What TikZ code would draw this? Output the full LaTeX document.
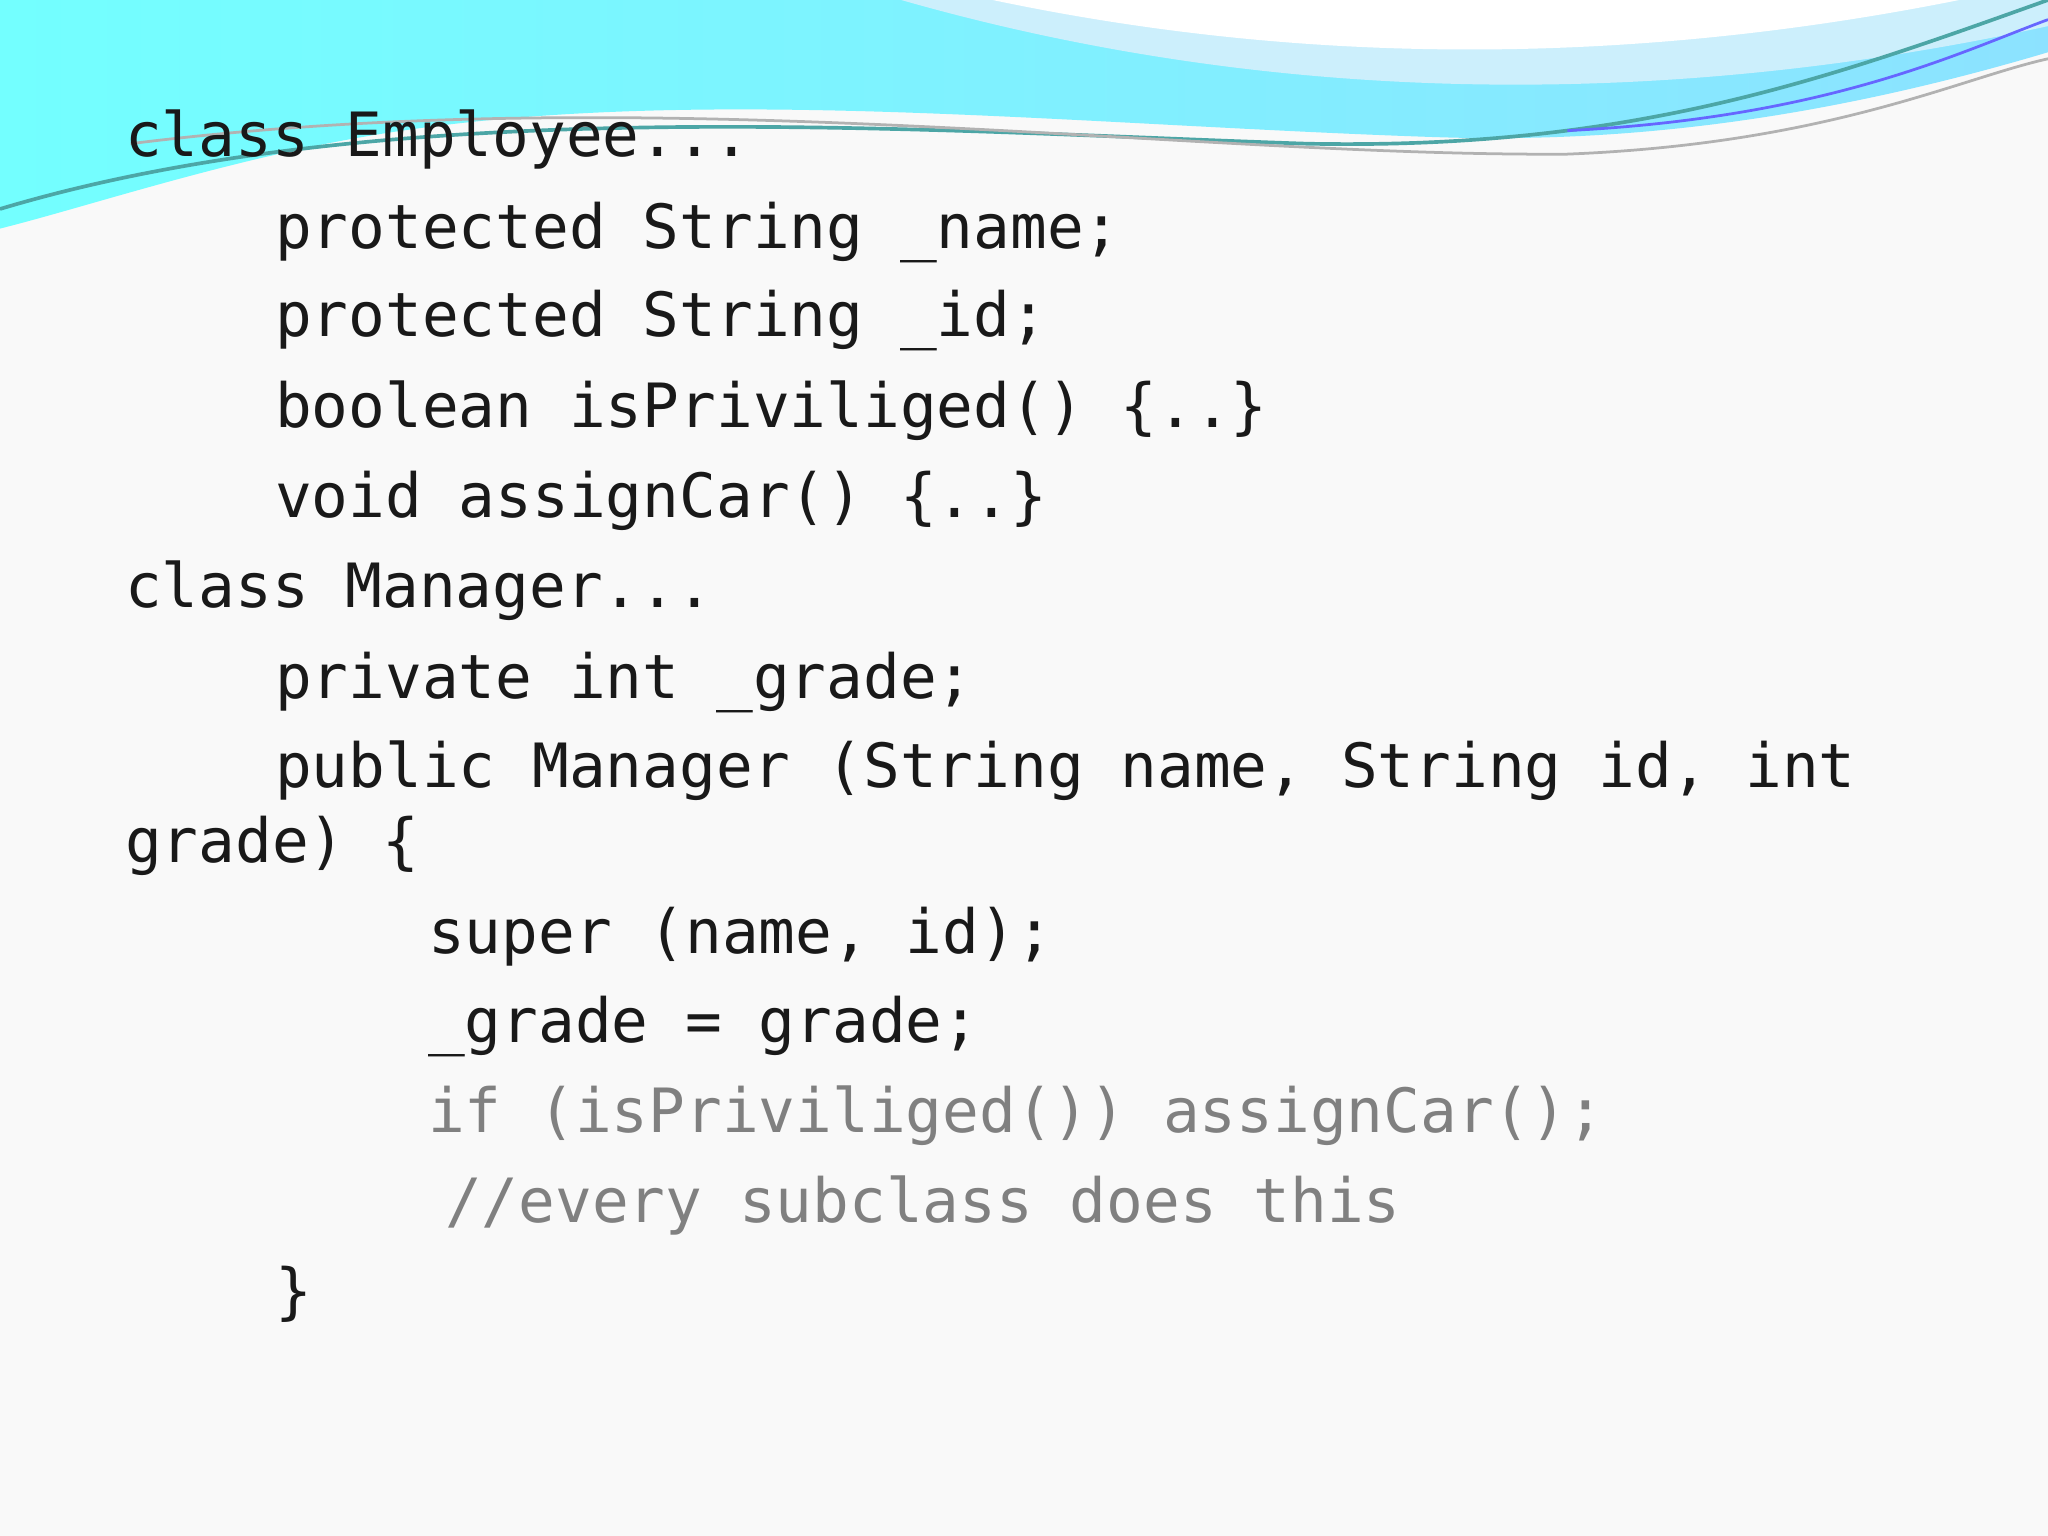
\documentclass[tikz,border=0pt]{standalone}
\usepackage{fontspec}
\setmonofont{DejaVu Sans Mono}
\begin{document}
\begin{tikzpicture}[x=0.1mm,y=-0.1mm,
  code/.style={anchor=base west,inner sep=0pt,font=\ttfamily\fontsize{13.3}{16}\selectfont,text=black!90},
  dim/.style={code,text=black!50}]
\useasboundingbox (0,0) rectangle (1568,1176);
\fill[gray!5] (0,0) rectangle (1568,1176);
\shade[left color=cyan!55,right color=blue!25!cyan!45] (0,0) -- (1568,0) -- (1568,40)
  .. controls (1400,90) and (1250,110) .. (1100,105)
  .. controls (800,95) and (500,60) .. (250,110)
  .. controls (150,130) and (60,160) .. (0,175) -- cycle;
\fill[cyan!20] (690,0) .. controls (900,60) and (1200,100) .. (1568,20) -- (1568,0) -- cycle;
\fill[white] (760,0) .. controls (950,40) and (1200,60) .. (1500,0) -- cycle;
\draw[teal!70,line width=0.8pt] (0,160) .. controls (300,70) and (700,100) .. (1000,110) .. controls (1250,115) and (1400,60) .. (1568,0);
\draw[gray!60,line width=0.6pt] (100,110) .. controls (500,60) and (900,120) .. (1200,118) .. controls (1400,110) and (1500,60) .. (1568,45);
\draw[blue!60,line width=0.6pt] (1200,100) .. controls (1400,90) and (1500,40) .. (1568,15);
\node[code] (l1) at (95,120) {class Employee...};
\node[code] (l2) at (210,190) {protected String \_name;};
\node[code] (l3) at (210,258) {protected String \_id;};
\node[code] (l4) at (210,327) {boolean isPriviliged() \{..\}};
\node[code] (l5) at (210,396) {void assignCar() \{..\}};
\node[code] (l6) at (95,465) {class Manager...};
\node[code] (l7) at (210,535) {private int \_grade;};
\node[code] (l8) at (210,603) {public Manager (String name, String id, int};
\node[code] (l9) at (95,660) {grade) \{};
\node[code] (l10) at (327,730) {super (name, id);};
\node[code] (l11) at (327,798) {\_grade = grade;};
\node[dim] (l12) at (327,867) {if (isPriviliged()) assignCar();};
\node[dim] (l13) at (340,936) {//every subclass does this};
\node[code] (l14) at (210,1005) {\}};
\end{tikzpicture}
\end{document}
